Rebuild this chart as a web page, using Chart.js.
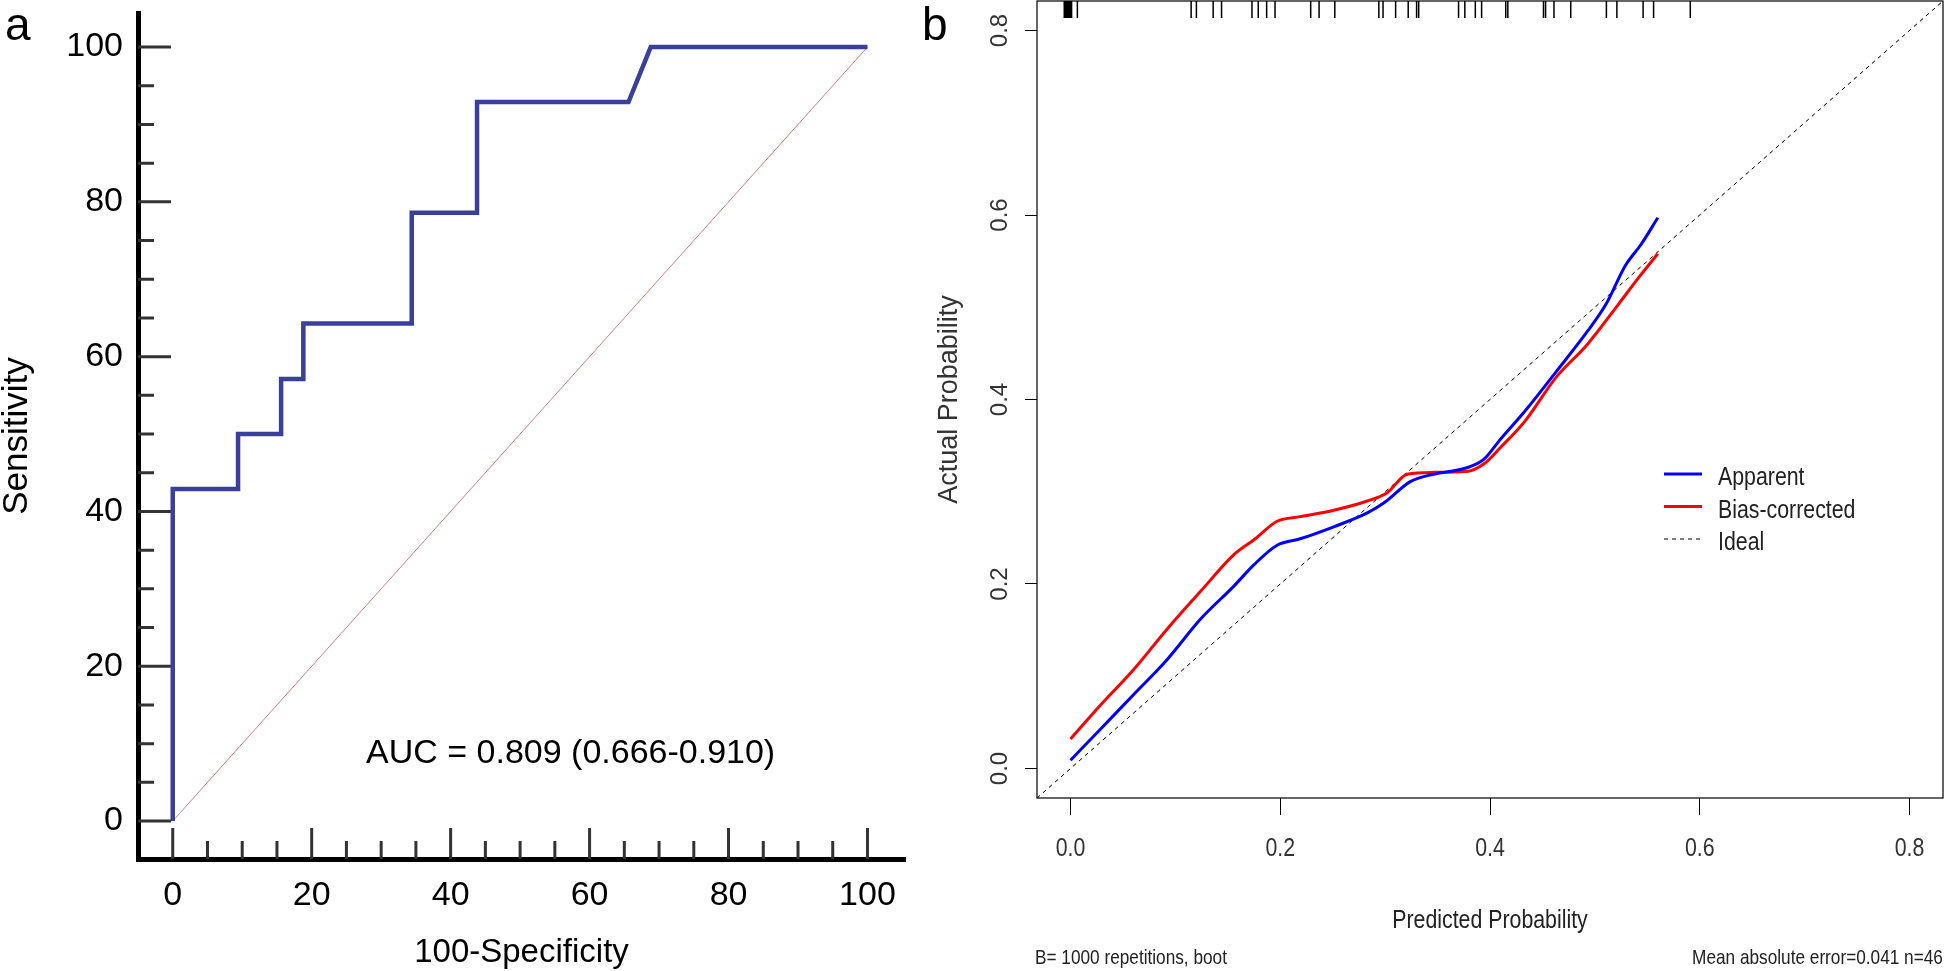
<!DOCTYPE html>
<html>
<head>
<meta charset="utf-8">
<title>ROC curve and calibration plot</title>
<script src="https://cdn.jsdelivr.net/npm/chart.js@4.4.0/dist/chart.umd.min.js"></script>
<style>
    body {
        margin: 0;
        width: 1944px;
        height: 971px;
        position: relative;
        overflow: hidden;
        background: #fff;
        font-family: "Liberation Sans", Arial, sans-serif;
    }
    canvas { position: absolute; top: 0; }
    #roc { left: 0; }
    #calibration { left: 920px; }
    .tag { position: absolute; top: 1px; font-size: 46px; line-height: 46px; color: #000; }
    .auc { position: absolute; left: 366px; top: 734px; font-size: 34px; line-height: 35px; color: #000; white-space: nowrap; }
    .note {
        position: absolute; top: 946px; font-size: 21px; line-height: 21px; color: #222; white-space: nowrap;
        transform: scaleX(0.82);
    }
</style>
</head>
<body>
<canvas id="roc" width="960" height="971"></canvas>
<canvas id="calibration" width="1024" height="971"></canvas>
<div class="tag" style="left:5px">a</div>
<div class="tag" style="left:922px">b</div>
<div class="auc">AUC = 0.809 (0.666-0.910)</div>
<div class="note" style="left:1035px; transform-origin: left center">B= 1000 repetitions, boot</div>
<div class="note" style="right:1px; transform-origin: right center">Mean absolute error=0.041 n=46</div>

<script>
const SANS = "'Liberation Sans', Arial, sans-serif";
const NARROW_SCALE = 0.82; // no narrow face installed, so squeeze Liberation Sans

// Panel a: ROC curve (100-Specificity vs Sensitivity, %)
const rocFpr = [0, 0, 9.4, 9.4, 15.6, 15.6, 18.8, 18.8, 34.4, 34.4, 43.8, 43.8, 65.6, 68.8, 100];
const rocTpr = [0, 42.9, 42.9, 50, 50, 57.1, 57.1, 64.3, 64.3, 78.6, 78.6, 92.9, 92.9, 100, 100];
const rocDiagonal = [0, 100];
const rocTicks = [0, 20, 40, 60, 80, 100];
const rocMinorStep = 5;

// Panel b: calibration curves
const apparentX = [0.0, 0.028, 0.060, 0.092, 0.124, 0.156, 0.175, 0.197, 0.219, 0.251, 0.283, 0.299,
    0.324, 0.346, 0.378, 0.394, 0.410, 0.433, 0.463, 0.493, 0.511, 0.529, 0.544, 0.560];
const apparentY = [0.009, 0.042, 0.080, 0.118, 0.162, 0.198, 0.221, 0.242, 0.249, 0.262, 0.277, 0.288,
    0.311, 0.319, 0.326, 0.335, 0.357, 0.387, 0.430, 0.474, 0.504, 0.545, 0.568, 0.597];
const biasX = [0.0, 0.028, 0.060, 0.092, 0.124, 0.156, 0.175, 0.197, 0.219, 0.251, 0.283, 0.302,
    0.321, 0.346, 0.378, 0.394, 0.410, 0.433, 0.463, 0.493, 0.523, 0.541, 0.560];
const biasY = [0.032, 0.068, 0.107, 0.151, 0.192, 0.232, 0.248, 0.268, 0.273, 0.280, 0.290, 0.299,
    0.319, 0.321, 0.322, 0.330, 0.348, 0.376, 0.424, 0.460, 0.504, 0.531, 0.558];
// predicted probabilities shown as the rug along the top
const rugValues = [-0.006, -0.005, -0.004, -0.003, -0.002, -0.001, 0.0, 0.001, 0.0065,
    0.115, 0.120, 0.136, 0.144, 0.173, 0.179, 0.187, 0.195, 0.229, 0.237, 0.252,
    0.294, 0.298, 0.310, 0.322, 0.330, 0.332, 0.370, 0.376, 0.386, 0.392, 0.415, 0.417,
    0.451, 0.453, 0.461, 0.477, 0.511, 0.521, 0.546, 0.556, 0.591];
const calTicks = [0, 0.2, 0.4, 0.6, 0.8];
const calMin = -0.032;
const calMax = 0.832;

const toPoints = (xs, ys) => xs.map((v, i) => ({ x: v, y: ys[i] }));

// stop Chart.js from reserving room for half-labels at the ends of the axes
const noEdgePadding = (s) => {
    s.paddingTop = 0;
    s.paddingBottom = 0;
    s.paddingLeft = 0;
    s.paddingRight = 0;
};

function narrowText(ctx, text, x, y, size, align) {
    ctx.save();
    ctx.translate(x, y);
    ctx.scale(NARROW_SCALE, 1);
    ctx.font = size + "px " + SANS;
    ctx.textAlign = align;
    ctx.textBaseline = "middle";
    ctx.fillText(text, 0, 0);
    ctx.restore();
}

// Inward major/minor ticks on the ROC axes
const innerTicks = {
    id: "innerTicks",
    beforeDatasetsDraw(chart) {
        const { ctx, chartArea: a, scales: { x, y } } = chart;
        ctx.save();
        ctx.strokeStyle = "#333";
        ctx.lineWidth = 3;
        ctx.beginPath();
        for (let v = rocTicks[0]; v <= rocTicks[rocTicks.length - 1]; v += rocMinorStep) {
            const major = rocTicks.includes(v);
            const px = x.getPixelForValue(v);
            ctx.moveTo(px, a.bottom);
            ctx.lineTo(px, a.bottom - (major ? 31 : 18));
            const py = y.getPixelForValue(v);
            ctx.moveTo(a.left, py);
            ctx.lineTo(a.left + (major ? 33 : 16), py);
        }
        ctx.stroke();
        ctx.restore();
    },
};

// Box, rug, x labels and legend for the calibration plot
const calExtras = {
    id: "calExtras",
    afterDatasetsDraw(chart) {
        const { ctx, chartArea: a, scales: { x } } = chart;
        ctx.save();
        ctx.strokeStyle = "#000";
        ctx.lineWidth = 1.2;
        ctx.strokeRect(a.left, a.top, a.right - a.left, a.bottom - a.top);

        ctx.lineWidth = 1.5;
        ctx.beginPath();
        rugValues.forEach((v) => {
            const px = x.getPixelForValue(v);
            ctx.moveTo(px, a.top);
            ctx.lineTo(px, a.top + 17);
        });
        ctx.stroke();

        // x tick labels and axis title in a narrow face
        ctx.fillStyle = "#333";
        calTicks.forEach((v) => {
            narrowText(ctx, v.toFixed(1), x.getPixelForValue(v), a.bottom + 51, 26, "center");
        });
        ctx.fillStyle = "#222";
        narrowText(ctx, "Predicted Probability", (a.left + a.right) / 2, 921, 26, "center");

        // legend
        const lx = 744, ly = 474, rowGap = 32.5, lineLen = 38;
        chart.data.datasets.forEach((ds, i) => {
            const yy = ly + i * rowGap;
            ctx.strokeStyle = ds.borderColor;
            ctx.lineWidth = ds.borderWidth;
            ctx.setLineDash(ds.borderDash || []);
            ctx.beginPath();
            ctx.moveTo(lx, yy);
            ctx.lineTo(lx + lineLen, yy);
            ctx.stroke();
            ctx.fillStyle = "#222";
            narrowText(ctx, ds.label, lx + lineLen + 16, yy + 4, 26, "left");
        });
        ctx.restore();
    },
};

// Panel a
new Chart(document.getElementById("roc"), {
    type: "line",
    data: {
        datasets: [
            {
                label: "ROC",
                data: toPoints(rocFpr, rocTpr),
                borderColor: "#3b3f9c",
                borderWidth: 4.5,
                borderJoinStyle: "miter",
                pointRadius: 0,
                tension: 0,
            },
            {
                label: "Reference",
                data: toPoints(rocDiagonal, rocDiagonal),
                borderColor: "#d77b7b",
                borderWidth: 1,
                pointRadius: 0,
            },
        ],
    },
    options: {
        responsive: false,
        animation: false,
        devicePixelRatio: 1,
        layout: { padding: { top: 13, right: 55, left: 0, bottom: 0 } },
        plugins: { legend: { display: false }, tooltip: { enabled: false } },
        scales: {
            x: {
                type: "linear",
                min: -5,
                max: 105.4,
                grid: { drawOnChartArea: false, drawTicks: false },
                border: { color: "#000", width: 5 },
                afterBuildTicks: (s) => { s.ticks = rocTicks.map((v) => ({ value: v })); },
                ticks: { font: { size: 34, family: SANS }, color: "#000", padding: 16, maxRotation: 0, autoSkip: false },
                title: {
                    display: true,
                    text: "100-Specificity",
                    color: "#000",
                    font: { size: 33, family: SANS, lineHeight: 1 },
                    padding: { top: 0, bottom: 2 },
                },
                afterFit: (s) => { s.height = 112; noEdgePadding(s); },
            },
            y: {
                type: "linear",
                min: -4.9,
                max: 104.4,
                grid: { drawOnChartArea: false, drawTicks: false },
                border: { color: "#000", width: 5 },
                afterBuildTicks: (s) => { s.ticks = rocTicks.map((v) => ({ value: v })); },
                ticks: { font: { size: 34, family: SANS }, color: "#000", padding: 15, autoSkip: false },
                title: {
                    display: true,
                    text: "Sensitivity",
                    color: "#000",
                    font: { size: 35, family: SANS, lineHeight: 1 },
                    padding: { top: 0, bottom: 0 },
                },
                afterFit: (s) => { s.width = 138; noEdgePadding(s); },
            },
        },
    },
    plugins: [innerTicks],
});

// Panel b
new Chart(document.getElementById("calibration"), {
    type: "line",
    data: {
        datasets: [
            {
                label: "Apparent",
                data: toPoints(apparentX, apparentY),
                borderColor: "#0000ff",
                borderWidth: 3,
                pointRadius: 0,
                cubicInterpolationMode: "monotone",
            },
            {
                label: "Bias-corrected",
                data: toPoints(biasX, biasY),
                borderColor: "#ff0000",
                borderWidth: 3,
                pointRadius: 0,
                cubicInterpolationMode: "monotone",
            },
            {
                label: "Ideal",
                data: toPoints([calMin, calMax], [calMin, calMax]),
                borderColor: "#000",
                borderWidth: 1,
                borderDash: [4, 4],
                pointRadius: 0,
            },
        ],
    },
    options: {
        responsive: false,
        animation: false,
        devicePixelRatio: 1,
        layout: { padding: { top: 1, right: 1, left: 0, bottom: 0 } },
        plugins: { legend: { display: false }, tooltip: { enabled: false } },
        scales: {
            x: {
                type: "linear",
                min: calMin,
                max: calMax,
                grid: { drawOnChartArea: false, drawTicks: true, tickLength: 17, color: "#000", lineWidth: 1 },
                border: { display: false },
                afterBuildTicks: (s) => { s.ticks = calTicks.map((v) => ({ value: v })); },
                ticks: { display: false },
                afterFit: (s) => { s.height = 173; noEdgePadding(s); },
            },
            y: {
                type: "linear",
                min: calMin,
                max: calMax,
                grid: { drawOnChartArea: false, drawTicks: true, tickLength: 12, color: "#000", lineWidth: 1 },
                border: { display: false },
                afterBuildTicks: (s) => { s.ticks = calTicks.map((v) => ({ value: v })); },
                ticks: {
                    font: { size: 24, family: SANS },
                    color: "#333",
                    padding: 8,
                    minRotation: 90,
                    maxRotation: 90,
                    crossAlign: "center",
                    autoSkip: false,
                    callback: (v) => v.toFixed(1),
                },
                title: {
                    display: true,
                    text: "Actual Probability",
                    color: "#333",
                    font: { size: 27, family: SANS, lineHeight: 1 },
                    padding: { top: 16, bottom: 0 },
                },
                afterFit: (s) => { s.width = 117; noEdgePadding(s); },
            },
        },
    },
    plugins: [calExtras],
});
</script>
</body>
</html>
